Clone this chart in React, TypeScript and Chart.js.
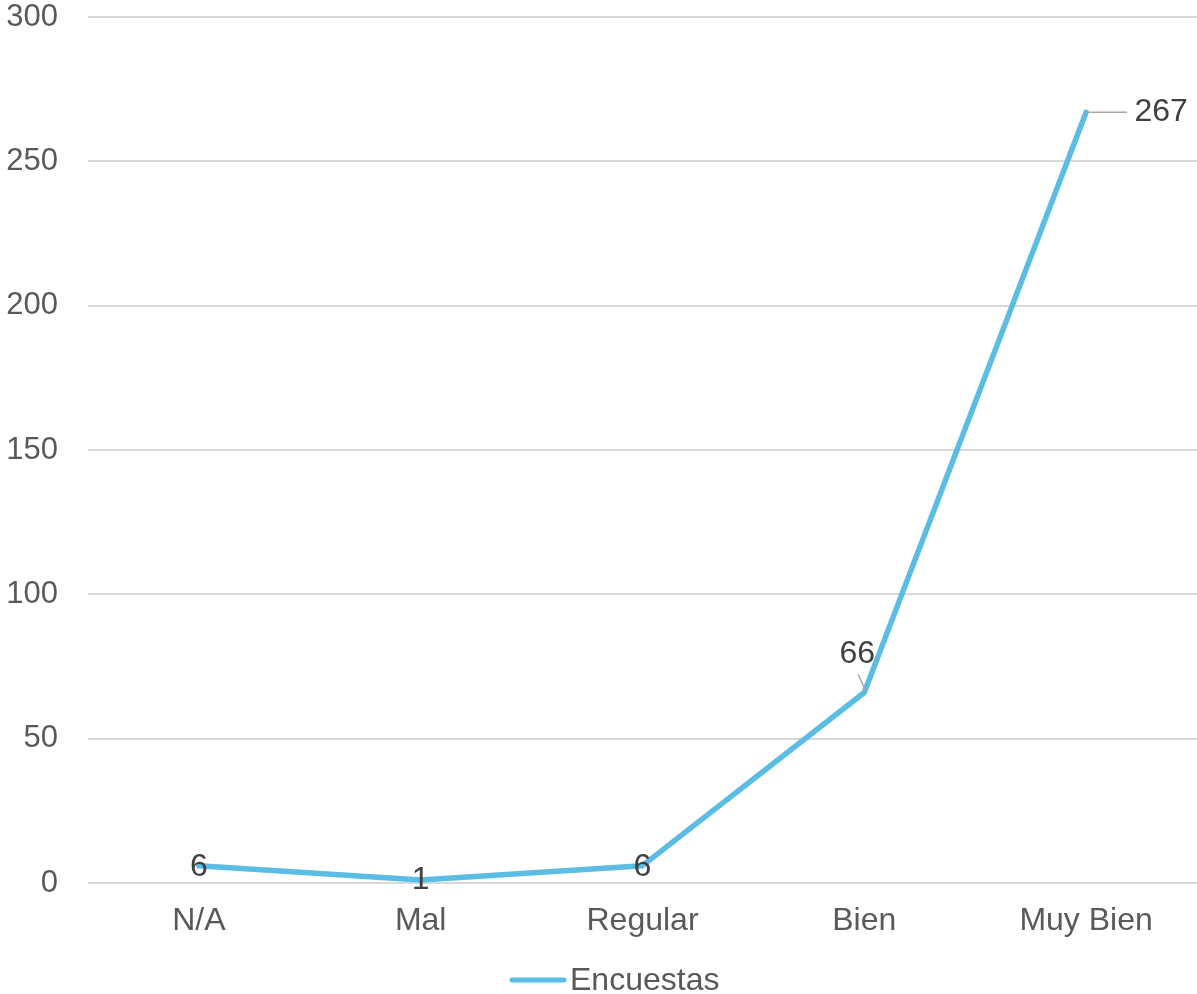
import React, { useEffect, useRef } from "react";
import { Chart, registerables } from "chart.js";

Chart.register(...registerables);

const categories = ["N/A", "Mal", "Regular", "Bien", "Muy Bien"];
const encuestas = [6, 1, 6, 66, 267];
const seriesLabel = "Encuestas";
const yTicks = [0, 50, 100, 150, 200, 250, 300];

const FONT = '"Liberation Sans", Arial, sans-serif';
const LINE_COLOR = "#5bbde4";

// label placement styles (pixel offsets relative to each point)
const labelOffsets = [
  { dx: 0, dy: 1, leader: null },
  { dx: 0, dy: 0, leader: null },
  { dx: 0, dy: 1, leader: null },
  { dx: -7, dy: -38, leader: [[1, -2], [-6, -18]] },
  { dx: 75, dy: 0, leader: [[2, 0], [41, 0]] },
];

const dataLabelPlugin = {
  id: "dataLabels",
  afterDatasetsDraw(chart: any) {
    const ctx = chart.ctx;
    const meta = chart.getDatasetMeta(0);
    const data = chart.data.datasets[0].data;
    ctx.save();
    meta.data.forEach((pt: any, i: number) => {
      const o = labelOffsets[i];
      if (o.leader) {
        ctx.strokeStyle = "#a6a6a6";
        ctx.lineWidth = 1.5;
        ctx.beginPath();
        ctx.moveTo(pt.x + o.leader[0][0], pt.y + o.leader[0][1]);
        ctx.lineTo(pt.x + o.leader[1][0], pt.y + o.leader[1][1]);
        ctx.stroke();
      }
      ctx.fillStyle = "#404040";
      ctx.font = `32px ${FONT}`;
      ctx.textAlign = "center";
      ctx.textBaseline = "middle";
      ctx.fillText(String(data[i]), pt.x + o.dx, pt.y + o.dy);
    });
    ctx.restore();
  },
};

const legendPlugin = {
  id: "customLegend",
  afterDraw(chart: any) {
    const ctx = chart.ctx;
    const ds = chart.data.datasets[0];
    const y = 980;
    const x0 = 512;
    ctx.save();
    ctx.strokeStyle = ds.borderColor;
    ctx.lineWidth = 5;
    ctx.lineCap = "round";
    ctx.beginPath();
    ctx.moveTo(x0, y);
    ctx.lineTo(x0 + 52, y);
    ctx.stroke();
    ctx.fillStyle = "#595959";
    ctx.font = `32px ${FONT}`;
    ctx.textAlign = "left";
    ctx.textBaseline = "middle";
    ctx.fillText(ds.label, x0 + 58, y + 1);
    ctx.restore();
  },
};

export default function App() {
  const ref = useRef<HTMLCanvasElement>(null);

  useEffect(() => {
    document.body.style.margin = "0";
    const chart = new Chart(ref.current!, {
      type: "line",
      data: {
        labels: categories,
        datasets: [
          {
            label: seriesLabel,
            data: encuestas,
            borderColor: LINE_COLOR,
            backgroundColor: LINE_COLOR,
            borderWidth: 5.5,
            pointRadius: 0,
            tension: 0,
            borderCapStyle: "round",
            borderJoinStyle: "round",
          },
        ],
      },
      options: {
        animation: false,
        responsive: false,
        layout: { padding: { top: 17, left: 0, right: -3, bottom: 0 } },
        plugins: {
          legend: { display: false },
          tooltip: { enabled: false },
        },
        scales: {
          x: {
            offset: true,
            grid: { display: false, drawTicks: false },
            border: { display: false },
            ticks: {
              color: "#595959",
              font: { family: FONT, size: 32 },
              padding: 19,
            },
            afterFit: (s: any) => {
              s.height = 111;
              s.paddingLeft = 0;
              s.paddingRight = 0;
            },
          },
          y: {
            min: 0,
            max: 300,
            afterBuildTicks: (s: any) => {
              s.ticks = yTicks.map((v) => ({ value: v }));
            },
            grid: { color: "#d9d9d9", lineWidth: 2, drawTicks: false },
            border: { display: false },
            ticks: {
              color: "#595959",
              font: { family: FONT, size: 31 },
              padding: 30,
            },
            afterFit: (s: any) => {
              s.width = 88;
              s.paddingTop = 0;
              s.paddingBottom = 0;
            },
          },
        },
      },
      plugins: [dataLabelPlugin, legendPlugin],
    });
    return () => chart.destroy();
  }, []);

  return <canvas ref={ref} width={1197} height={994} style={{ display: "block" }} />;
}
